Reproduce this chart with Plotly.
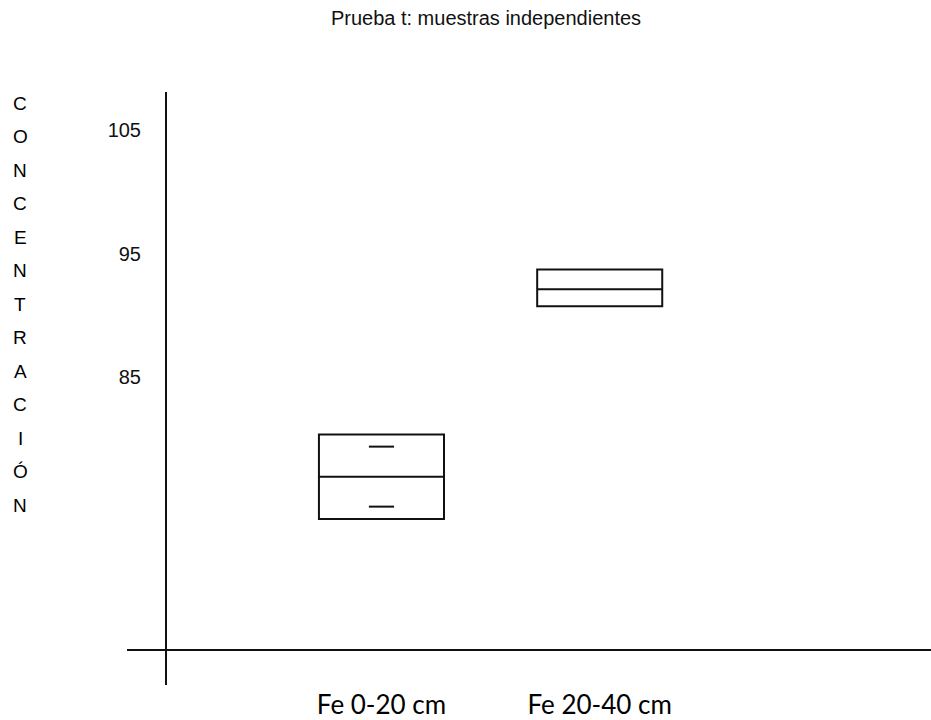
import plotly.graph_objects as go

# ---- data ----
categories = ["Fe 0-20 cm", "Fe 20-40 cm"]
q1_vals = [73.56, 90.75]
median_vals = [76.98, 92.13]
q3_vals = [80.39, 93.73]
ci_cat = ["Fe 0-20 cm", "Fe 0-20 cm"]
ci_vals = [79.41, 74.56]
y_ticks = [85, 95, 105]
y_title = "CONCENTRACIÓN"
title_text = "Prueba t: muestras independientes"

W, H = 931, 720
L, R, T, B = 127, 0, 92, 71
plot_w = W - L - R
plot_h = H - T - B

fig = go.Figure()
for i, c in enumerate(categories):
    fig.add_trace(go.Box(
        x=[c], q1=[q1_vals[i]], median=[median_vals[i]], q3=[q3_vals[i]],
        lowerfence=[q1_vals[i]], upperfence=[q3_vals[i]],
        width=0.573, whiskerwidth=0, boxpoints=False,
        fillcolor="white", line=dict(color="#111111", width=2),
        showlegend=False, hoverinfo="skip",
    ))

fig.add_trace(go.Scatter(
    x=ci_cat, y=ci_vals, mode="markers",
    marker=dict(symbol="line-ew", size=18, line=dict(color="#111111", width=2)),
    showlegend=False, hoverinfo="skip",
))

yaxis_pos = (166 - L) / plot_w

annotations = []
for i, ch in enumerate(y_title):
    ypx = 103.5 + i * 33.46
    annotations.append(dict(
        text=ch, xref="paper", yref="paper",
        x=(20 - L) / plot_w, y=(H - B - ypx) / plot_h,
        xanchor="center", yanchor="middle", showarrow=False,
        font=dict(family="Liberation Sans, Arial", size=19, color="#000000"),
    ))

fig.add_shape(type="line", xref="paper", yref="paper",
              x0=yaxis_pos, x1=yaxis_pos, y0=-(685 - (H - B)) / plot_h, y1=0,
              line=dict(color="#111111", width=2))

fig.update_layout(
    width=W, height=H,
    margin=dict(l=L, r=R, t=T, b=B, pad=0, autoexpand=False),
    paper_bgcolor="white", plot_bgcolor="white",
    title=dict(text=title_text, x=486 / W, xref="container", xanchor="center",
               y=1 - 18 / H, yref="container", yanchor="middle",
               font=dict(family="Liberation Sans, Arial", size=20, color="#111111")),
    annotations=annotations,
    xaxis=dict(
        type="category", categoryorder="array", categoryarray=categories,
        range=[-1.166, 2.518], showgrid=False, zeroline=False,
        showline=True, linecolor="#111111", linewidth=2, ticks="",
        tickfont=dict(family="Lato, Open Sans", size=26, color="#000000"),
        ticklabelstandoff=32, automargin=False,
    ),
    yaxis=dict(
        range=[63.05, 108.08], tickvals=y_ticks, showgrid=False, zeroline=False,
        anchor="free", position=yaxis_pos,
        showline=True, linecolor="#111111", linewidth=2, ticks="",
        tickfont=dict(family="Liberation Sans, Arial", size=20, color="#111111"),
        ticklabelstandoff=20, automargin=False,
    ),
)

fig.write_html("out.html", config={"displayModeBar": False},
               post_script="document.body.style.margin='0';document.body.style.overflow='hidden';")
